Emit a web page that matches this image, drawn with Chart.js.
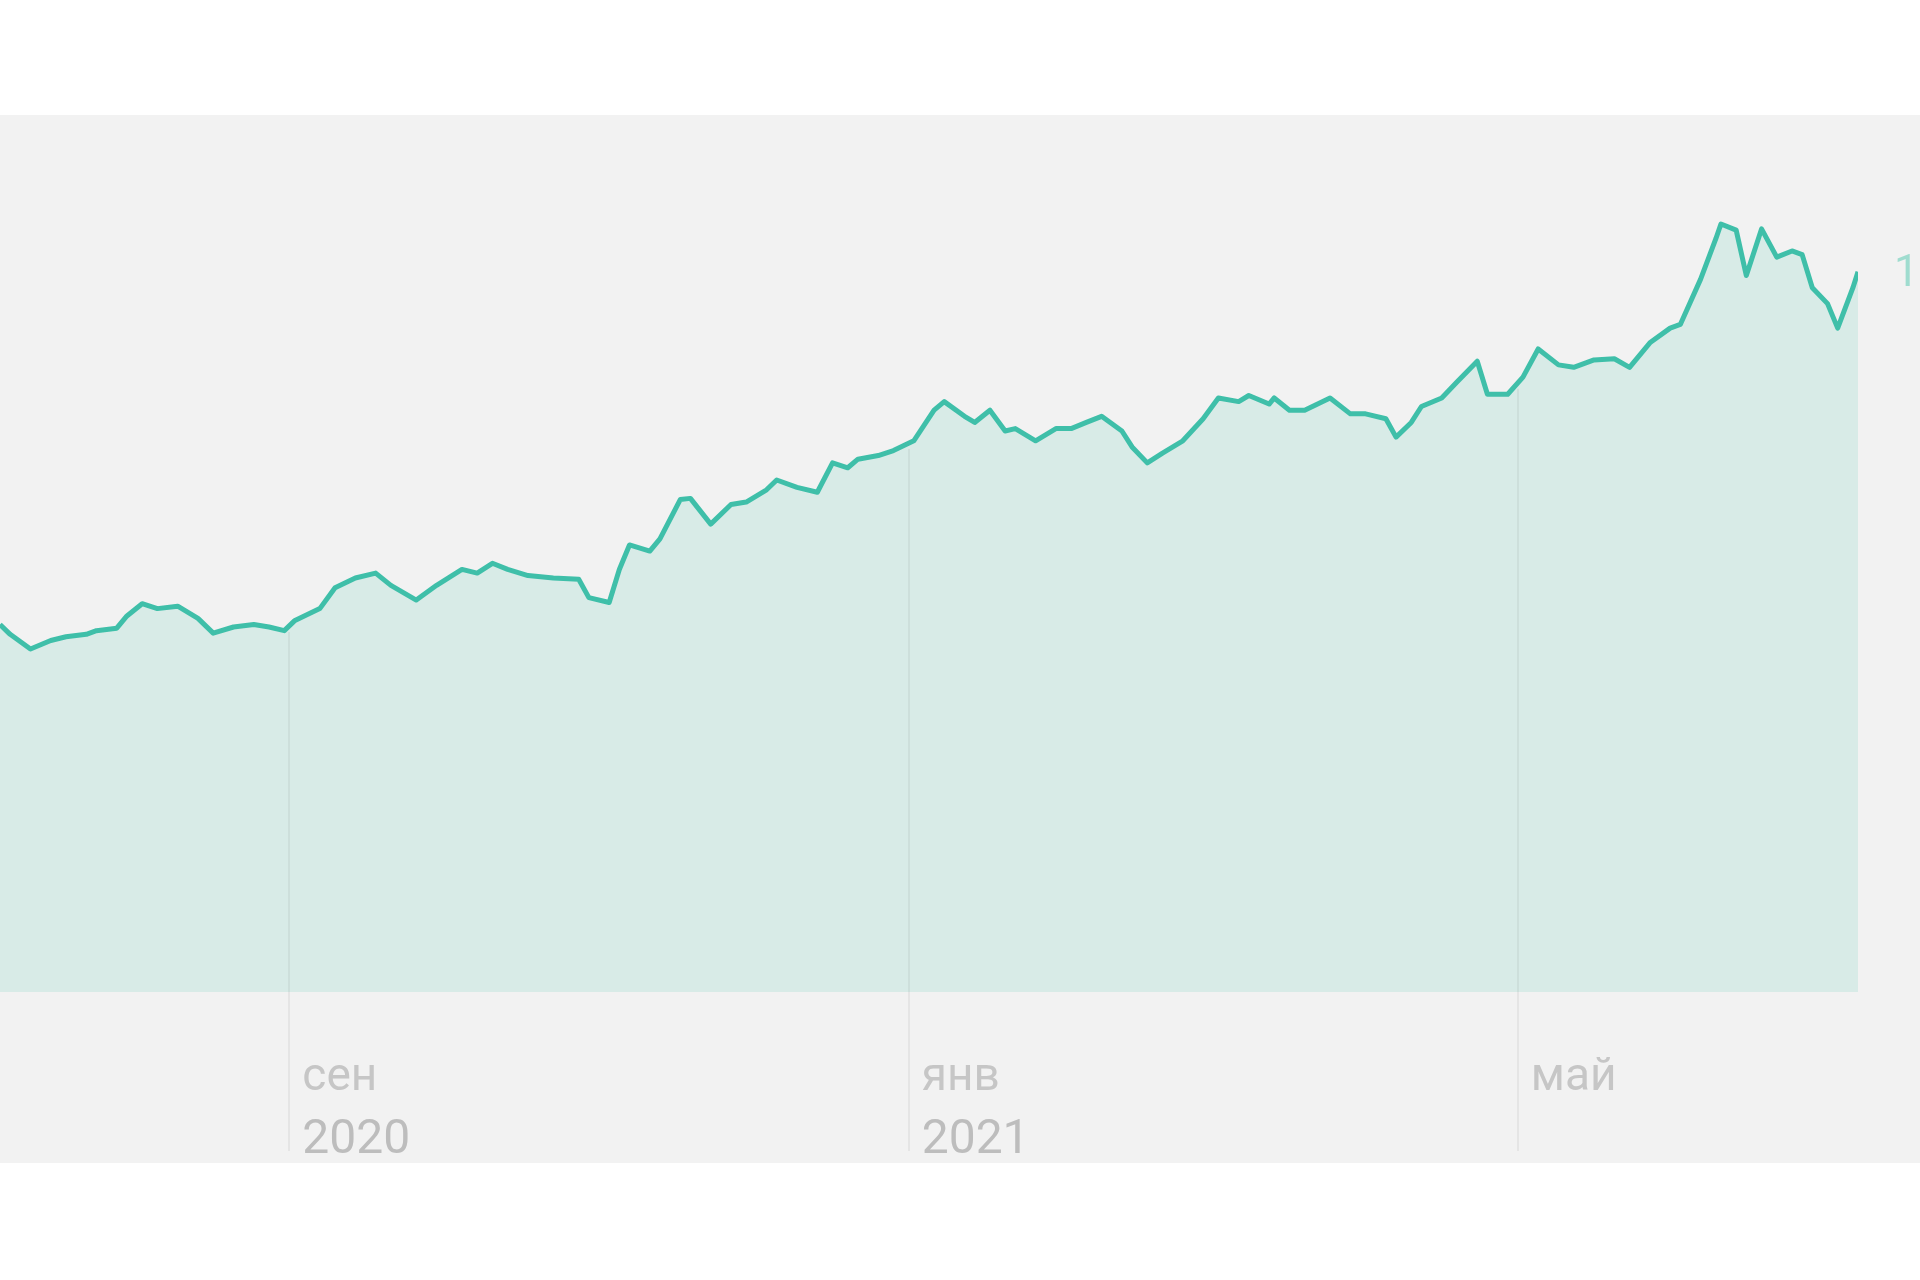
<!DOCTYPE html>
<html>
<head>
<meta charset="utf-8">
<script src="https://cdn.jsdelivr.net/npm/chart.js@4/dist/chart.umd.min.js"></script>
<style>
  html, body { margin: 0; padding: 0; background: #fff; }
  #wrap { width: 1920px; height: 1280px; }
</style>
</head>
<body>
<div id="wrap"><canvas id="priceChart"></canvas></div>
<script>
// days since 6 Jul 2020
const days = [0,2,6,10,13,17,19,23,25,28,31,35,39,42,46,50,53,56,58,63,66,70,74,77,82,86,91,94,97,100,104,109,114,116,120,122,124,128,130,134,136,140,144,147,151,153,157,161,164,167,169,173,176,180,184,186,190,192,195,198,200,204,208,211,214,217,221,223,226,229,233,237,240,244,246,250,251,254,257,262,266,269,273,275,278,280,284,287,291,293,297,300,303,307,310,314,318,321,325,329,331,335,338,339,342,344,347,350,353,355,357,360,362,365,366];
const values = [300,292,280,287,290,292,295,297,307,317,313,315,305,293,298,300,298,295,303,313,330,338,342,332,320,332,345,342,350,345,340,338,337,322,318,345,365,360,370,402,403,382,398,400,410,418,412,408,432,428,435,438,442,450,475,482,470,465,475,458,460,450,460,460,465,470,458,445,432,440,450,468,485,482,487,480,485,475,475,485,472,472,468,453,465,478,485,498,515,488,488,502,525,512,510,516,517,510,530,542,545,582,615,627,622,585,623,600,605,602,575,562,542,575,588];
const tickDays = [57, 179, 299];
const tickMonths = ["сен", "янв", "май"];
const tickYears = ["2020", "2021", ""];
const endLabel = "1";

function lineYAt(chart, px) {
  const pts = chart.getDatasetMeta(0).data;
  for (let i = 1; i < pts.length; i++) {
    if (pts[i].x >= px) {
      const a = pts[i - 1], b = pts[i];
      const t = (px - a.x) / ((b.x - a.x) || 1);
      return a.y + (b.y - a.y) * t;
    }
  }
  return chart.chartArea.top;
}

const decor = {
  id: "decor",
  beforeDraw(chart) {
    const ctx = chart.ctx;
    ctx.save();
    ctx.fillStyle = "#f2f2f2";
    ctx.fillRect(0, 115, chart.width, 1048);
    ctx.restore();
  },
  afterDatasetsDraw(chart) {
    const ctx = chart.ctx, x = chart.scales.x;
    ctx.save();
    ctx.strokeStyle = "rgba(0,0,0,0.05)";
    ctx.lineWidth = 2;
    tickDays.forEach(d => {
      const px = Math.round(x.getPixelForValue(d));
      ctx.beginPath();
      ctx.moveTo(px, lineYAt(chart, px) + 6);
      ctx.lineTo(px, 1151);
      ctx.stroke();
    });
    ctx.restore();
  },
  afterDraw(chart) {
    const ctx = chart.ctx, x = chart.scales.x;
    ctx.save();
    ctx.font = "46px Roboto";
    ctx.textAlign = "left";
    ctx.textBaseline = "alphabetic";
    tickDays.forEach((d, i) => {
      const px = x.getPixelForValue(d) + 13;
      ctx.fillStyle = "#c6c6c6";
      ctx.fillText(tickMonths[i], px, 1090);
      ctx.fillStyle = "#bdbdbd";
      ctx.font = "48px Roboto";
      ctx.fillText(tickYears[i], px, 1153);
      ctx.font = "46px Roboto";
    });
    ctx.fillStyle = "#9fdccf";
    ctx.font = "44px Roboto";
    ctx.fillText(endLabel, x.getPixelForValue(days[days.length - 1]) + 36, 286);
    ctx.restore();
  }
};

new Chart(document.getElementById("priceChart"), {
  type: "line",
  data: {
    datasets: [{
      data: days.map((d, i) => ({ x: d, y: values[i] })),
      borderColor: "#3fbfa9",
      borderWidth: 5,
      borderJoinStyle: "round",
      backgroundColor: "#d8ebe7",
      fill: "origin",
      pointRadius: 0,
      tension: 0
    }]
  },
  options: {
    responsive: true,
    maintainAspectRatio: false,
    animation: false,
    layout: { padding: { top: 115, right: 62, bottom: 288, left: 0 } },
    plugins: { legend: { display: false }, tooltip: { enabled: false } },
    scales: {
      x: { type: "linear", min: 0, max: 366, display: false },
      y: { min: 0, max: 716, display: false }
    }
  },
  plugins: [decor]
});
</script>
</body>
</html>
